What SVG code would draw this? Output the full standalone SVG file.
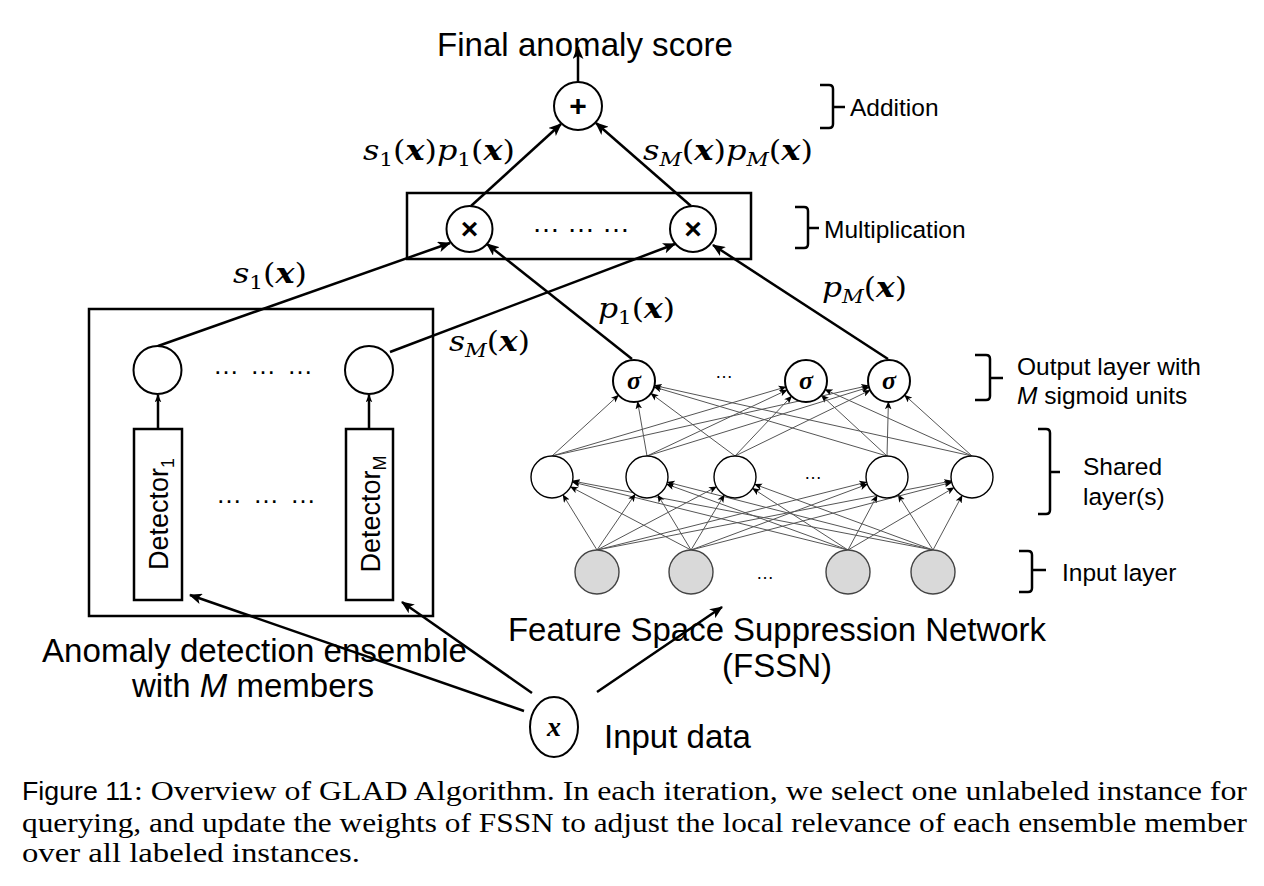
<svg xmlns="http://www.w3.org/2000/svg" width="1264" height="886" viewBox="0 0 1264 886">
<defs>
<style>
.sans{font-family:"Liberation Sans",Arial,sans-serif;fill:#000}
.serif{font-family:"Liberation Serif","Times New Roman",serif;fill:#000}
.math{font-family:"DejaVu Serif","Liberation Serif",serif;font-size:28px;fill:#000}
.it{font-style:italic}
.bx{font-style:italic;font-weight:bold}
.sub{font-size:19px}
.main{stroke:#000;stroke-width:2.5;fill:none}
.net{stroke:#555;stroke-width:1;fill:none}
.node{fill:#fff;stroke:#000;stroke-width:2}
.nnode{fill:#fff;stroke:#000;stroke-width:1.4}
.inode{fill:#d9d9d9;stroke:#444;stroke-width:1.4}
.brace{stroke:#000;stroke-width:2.5;fill:none}
.lbl{font-family:"Liberation Sans",Arial,sans-serif;font-size:24.5px;fill:#000}
.big{font-family:"Liberation Sans",Arial,sans-serif;font-size:33px;fill:#000}
.cap{font-family:"Liberation Serif","Times New Roman",serif;font-size:27px;fill:#000}
</style>
<marker id="arr" viewBox="0 0 12 10" refX="11" refY="5" markerWidth="13" markerHeight="11" markerUnits="userSpaceOnUse" orient="auto">
<path d="M0,0 L12,5 L0,10 L3,5 z" fill="#000"/>
</marker>
<marker id="arrs" viewBox="0 0 12 10" refX="11" refY="5" markerWidth="8" markerHeight="7" markerUnits="userSpaceOnUse" orient="auto">
<path d="M0,0 L12,5 L0,10 L3,5 z" fill="#000"/>
</marker>
</defs>
<rect width="1264" height="886" fill="#fff"/>

<g id="connectors">
<g class="net" marker-end="url(#arrs)">
<line x1="552" y1="456" x2="618.5" y2="395.2"/>
<line x1="647" y1="456" x2="637.6" y2="401.7"/>
<line x1="735" y1="456" x2="650.9" y2="393.5"/>
<line x1="887" y1="456" x2="654.1" y2="387"/>
<line x1="972" y1="456" x2="654.5" y2="385.5"/>
<line x1="552" y1="456" x2="785.9" y2="386.9"/>
<line x1="647" y1="456" x2="787" y2="390"/>
<line x1="735" y1="456" x2="791.6" y2="396.2"/>
<line x1="887" y1="456" x2="821.4" y2="395.3"/>
<line x1="972" y1="456" x2="825.1" y2="389.6"/>
<line x1="552" y1="456" x2="868.5" y2="385.6"/>
<line x1="647" y1="456" x2="868.9" y2="387.2"/>
<line x1="735" y1="456" x2="870.1" y2="390.2"/>
<line x1="887" y1="456" x2="888.4" y2="402"/>
<line x1="972" y1="456" x2="904.6" y2="395.1"/>
<line x1="597" y1="550" x2="563" y2="494.9"/>
<line x1="691" y1="550" x2="570.6" y2="486.8"/>
<line x1="848" y1="550" x2="572.4" y2="482"/>
<line x1="933" y1="550" x2="572.6" y2="481"/>
<line x1="597" y1="550" x2="635.1" y2="494.3"/>
<line x1="691" y1="550" x2="657.8" y2="495"/>
<line x1="848" y1="550" x2="666.7" y2="484.2"/>
<line x1="933" y1="550" x2="667.3" y2="482.2"/>
<line x1="597" y1="550" x2="716.4" y2="486.8"/>
<line x1="691" y1="550" x2="724.2" y2="495"/>
<line x1="848" y1="550" x2="752.6" y2="488.4"/>
<line x1="933" y1="550" x2="754.7" y2="484.3"/>
<line x1="597" y1="550" x2="866.6" y2="482.1"/>
<line x1="691" y1="550" x2="867.3" y2="484.3"/>
<line x1="848" y1="550" x2="877.1" y2="495.5"/>
<line x1="933" y1="550" x2="898.2" y2="494.8"/>
<line x1="597" y1="550" x2="951.4" y2="481"/>
<line x1="691" y1="550" x2="951.7" y2="482.3"/>
<line x1="848" y1="550" x2="953.9" y2="487.7"/>
<line x1="933" y1="550" x2="962.1" y2="495.5"/>
</g>
<g class="main" marker-end="url(#arr)">
<line x1="578" y1="82" x2="578" y2="47"/>
<line x1="471" y1="206" x2="561" y2="124"/>
<line x1="691" y1="206" x2="596" y2="123"/>
<line x1="158" y1="346" x2="450" y2="243"/>
<line x1="390" y1="352" x2="675" y2="244"/>
<line x1="632" y1="359" x2="487" y2="244"/>
<line x1="888" y1="359" x2="713" y2="245"/>
<line x1="524" y1="711" x2="190" y2="595"/>
<line x1="532" y1="693" x2="402" y2="602"/>
<line x1="597" y1="692" x2="722" y2="607"/>
</g>
<g class="main" stroke-width="2" marker-end="url(#arrs)">
<line x1="158" y1="429" x2="158" y2="395"/>
<line x1="369" y1="429" x2="369" y2="395"/>
</g>
</g>

<g id="title">
<text class="big" x="437" y="56" textLength="296" lengthAdjust="spacingAndGlyphs">Final anomaly score</text>
</g>

<g id="addition">
<circle class="node" cx="578" cy="106" r="24" stroke-width="2.5"/>
<text class="sans" x="578" y="116" font-size="30" font-weight="bold" text-anchor="middle">+</text>
</g>

<g id="multiplication-box">
<rect x="407" y="193" width="344" height="66" fill="none" stroke="#000" stroke-width="2.5"/>
</g>
<g id="mult1">
<circle class="node" cx="469.5" cy="229" r="23" stroke-width="2.5"/>
<text class="sans" x="469.5" y="239" font-size="30" font-weight="bold" text-anchor="middle">×</text>
</g>
<g id="multM">
<circle class="node" cx="693" cy="229" r="23" stroke-width="2.5"/>
<text class="sans" x="693" y="239" font-size="30" font-weight="bold" text-anchor="middle">×</text>
</g>
<g id="mult-dots">
<text class="sans" x="581" y="232" font-size="28" text-anchor="middle" textLength="98" lengthAdjust="spacing">… … …</text>
</g>

<g id="product-labels">
<text class="math" x="363" y="160" textLength="152" lengthAdjust="spacingAndGlyphs"><tspan class="it">s</tspan><tspan class="sub" dy="6">1</tspan><tspan dy="-6">(</tspan><tspan class="bx">x</tspan>)<tspan class="it">p</tspan><tspan class="sub" dy="6">1</tspan><tspan dy="-6">(</tspan><tspan class="bx">x</tspan>)</text>
<text class="math" x="643" y="160" textLength="170" lengthAdjust="spacingAndGlyphs"><tspan class="it">s</tspan><tspan class="sub it" dy="6">M</tspan><tspan dy="-6">(</tspan><tspan class="bx">x</tspan>)<tspan class="it">p</tspan><tspan class="sub it" dy="6">M</tspan><tspan dy="-6">(</tspan><tspan class="bx">x</tspan>)</text>
<text class="math" x="233" y="283" textLength="74" lengthAdjust="spacingAndGlyphs"><tspan class="it">s</tspan><tspan class="sub" dy="6">1</tspan><tspan dy="-6">(</tspan><tspan class="bx">x</tspan>)</text>
<text class="math" x="449" y="351" textLength="81" lengthAdjust="spacingAndGlyphs"><tspan class="it">s</tspan><tspan class="sub it" dy="6">M</tspan><tspan dy="-6">(</tspan><tspan class="bx">x</tspan>)</text>
<text class="math" x="598" y="318" textLength="77" lengthAdjust="spacingAndGlyphs"><tspan class="it">p</tspan><tspan class="sub" dy="6">1</tspan><tspan dy="-6">(</tspan><tspan class="bx">x</tspan>)</text>
<text class="math" x="822" y="297" textLength="85" lengthAdjust="spacingAndGlyphs"><tspan class="it">p</tspan><tspan class="sub it" dy="6">M</tspan><tspan dy="-6">(</tspan><tspan class="bx">x</tspan>)</text>
</g>

<g id="ensemble">
<rect x="89" y="309" width="344" height="307" fill="none" stroke="#000" stroke-width="2.5"/>
<text class="sans" x="263" y="374" font-size="26" text-anchor="middle" textLength="100" lengthAdjust="spacing">… … …</text>
<text class="sans" x="266" y="503" font-size="26" text-anchor="middle" textLength="100" lengthAdjust="spacing">… … …</text>
</g>
<g id="score1">
<circle class="node" cx="157.5" cy="370" r="24"/>
</g>
<g id="scoreM">
<circle class="node" cx="369" cy="370" r="24"/>
</g>
<g id="detector1">
<rect x="134" y="429" width="48" height="171" fill="#fff" stroke="#000" stroke-width="2.5"/>
<text class="sans" x="158" y="524" font-size="27" text-anchor="middle" transform="rotate(-90 158 514)">Detector<tspan font-size="18" dy="6">1</tspan></text>
</g>
<g id="detectorM">
<rect x="346" y="429" width="47" height="171" fill="#fff" stroke="#000" stroke-width="2.5"/>
<text class="sans" x="369.5" y="524" font-size="27" text-anchor="middle" transform="rotate(-90 369.5 514)">Detector<tspan font-size="18" dy="6">M</tspan></text>
</g>
<g id="ensemble-label">
<text class="big" x="42" y="662" textLength="425" lengthAdjust="spacingAndGlyphs">Anomaly detection ensemble</text>
<text class="big" x="253" y="697" text-anchor="middle">with <tspan font-style="italic">M</tspan> members</text>
</g>

<g id="output-layer">
<circle class="node" cx="634" cy="381" r="21"/>
<text class="serif" x="634" y="389" font-size="26" font-style="italic" font-weight="bold" text-anchor="middle">σ</text>
<circle class="node" cx="806" cy="381" r="21"/>
<text class="serif" x="806" y="389" font-size="26" font-style="italic" font-weight="bold" text-anchor="middle">σ</text>
<circle class="node" cx="889" cy="381" r="21"/>
<text class="serif" x="889" y="389" font-size="26" font-style="italic" font-weight="bold" text-anchor="middle">σ</text>
<text class="sans" x="724" y="378" font-size="18" text-anchor="middle">…</text>
</g>
<g id="shared-layer">
<circle class="nnode" cx="552" cy="477" r="21"/>
<circle class="nnode" cx="647" cy="477" r="21"/>
<circle class="nnode" cx="735" cy="477" r="21"/>
<circle class="nnode" cx="887" cy="477" r="21"/>
<circle class="nnode" cx="972" cy="477" r="21"/>
<text class="sans" x="813" y="479" font-size="18" text-anchor="middle">…</text>
</g>
<g id="input-layer">
<circle class="inode" cx="597" cy="572" r="22"/>
<circle class="inode" cx="691" cy="572" r="22"/>
<circle class="inode" cx="848" cy="572" r="22"/>
<circle class="inode" cx="933" cy="572" r="22"/>
<text class="sans" x="765" y="579" font-size="18" text-anchor="middle">…</text>
</g>
<g id="fssn-label">
<text class="big" x="508" y="641" textLength="538" lengthAdjust="spacingAndGlyphs">Feature Space Suppression Network</text>
<text class="big" x="777" y="677" text-anchor="middle">(FSSN)</text>
</g>

<g id="input-data">
<ellipse class="node" cx="554" cy="727" rx="24" ry="30" stroke-width="2.5"/>
<text class="serif" x="554" y="736" font-size="28" font-style="italic" font-weight="bold" text-anchor="middle">x</text>
<text class="big" x="604" y="748">Input data</text>
</g>

<g id="braces">
<path class="brace" d="M820,85 H829 Q833,85 833,89 V124 Q833,128 829,128 H820 M833,107 H845"/>
<text class="lbl" x="850" y="116" font-size="27">Addition</text>
<path class="brace" d="M795,207 H804 Q808,207 808,211 V244 Q808,248 804,248 H795 M808,228 H819"/>
<text class="lbl" x="824" y="238" font-size="27">Multiplication</text>
<path class="brace" d="M975,355 H986 Q990,355 990,359 V396 Q990,400 986,400 H975 M990,378 H1003"/>
<text class="lbl" x="1017" y="375">Output layer with</text>
<text class="lbl" x="1017" y="404"><tspan font-style="italic">M</tspan> sigmoid units</text>
<path class="brace" d="M1038,429 H1046 Q1050,429 1050,433 V510 Q1050,514 1046,514 H1038 M1050,472 H1060"/>
<text class="lbl" x="1083" y="475">Shared</text>
<text class="lbl" x="1083" y="505">layer(s)</text>
<path class="brace" d="M1019,551 H1028 Q1032,551 1032,555 V588 Q1032,592 1028,592 H1019 M1032,570 H1046"/>
<text class="lbl" x="1062" y="581">Input layer</text>
</g>

<g id="caption">
<text class="sans" x="22" y="800" font-size="25" textLength="111" lengthAdjust="spacingAndGlyphs">Figure 11</text>
<text class="cap" x="134" y="800" textLength="1113" lengthAdjust="spacingAndGlyphs">: Overview of GLAD Algorithm. In each iteration, we select one unlabeled instance for</text>
<text class="cap" x="22" y="832" textLength="1225" lengthAdjust="spacingAndGlyphs">querying, and update the weights of FSSN to adjust the local relevance of each ensemble member</text>
<text class="cap" x="22" y="862" textLength="338" lengthAdjust="spacingAndGlyphs">over all labeled instances.</text>
</g>
</svg>
